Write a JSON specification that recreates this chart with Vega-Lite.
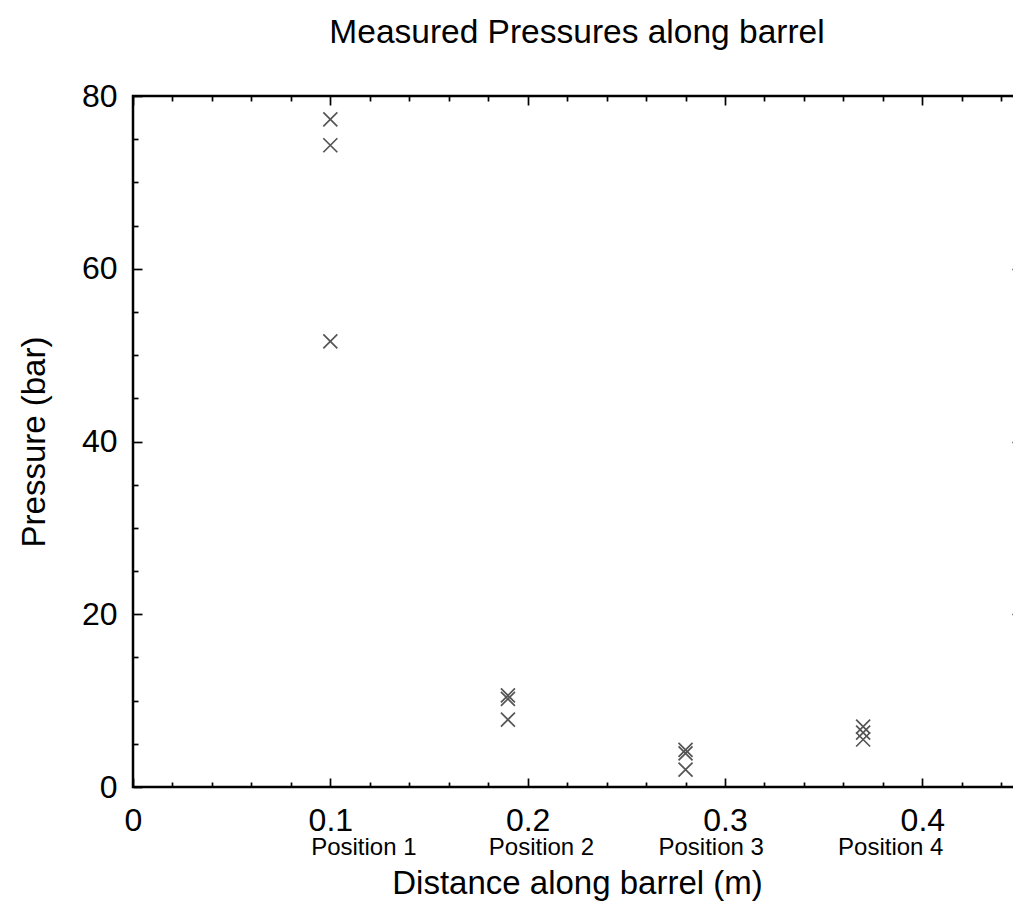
{
  "$schema": "https://vega.github.io/schema/vega-lite/v6.json",
  "autosize": {"type": "none"},
  "padding": {"left": 133, "top": 96, "right": 0, "bottom": 124},
  "width": 888,
  "height": 691,
  "background": "white",
  "title": {
    "text": "Measured Pressures along barrel",
    "font": "Liberation Sans",
    "fontSize": 33.5,
    "fontWeight": "normal",
    "color": "black",
    "anchor": "middle",
    "frame": "group",
    "baseline": "alphabetic",
    "offset": 3.5
  },
  "config": {
    "view": {"stroke": "black", "strokeWidth": 2.5},
    "axis": {
      "domain": false,
      "grid": false,
      "tickColor": "black",
      "tickWidth": 1.7,
      "labelFont": "Liberation Sans",
      "labelFontSize": 32,
      "labelColor": "black",
      "labelFlush": false,
      "labelOverlap": false,
      "titleFont": "Liberation Sans",
      "titleFontSize": 33,
      "titleColor": "black",
      "titleFontWeight": "normal"
    }
  },
  "datasets": {
    "pressures": [
      {"distance": 0.1, "pressure": 77.3},
      {"distance": 0.1, "pressure": 74.3},
      {"distance": 0.1, "pressure": 51.6},
      {"distance": 0.19, "pressure": 10.6},
      {"distance": 0.19, "pressure": 10.2},
      {"distance": 0.19, "pressure": 7.8},
      {"distance": 0.28, "pressure": 4.3},
      {"distance": 0.28, "pressure": 3.9},
      {"distance": 0.28, "pressure": 2.0},
      {"distance": 0.37, "pressure": 7.0},
      {"distance": 0.37, "pressure": 6.3},
      {"distance": 0.37, "pressure": 5.5}
    ],
    "labels": [
      {"label": "Position 1", "x": 0.117, "y": -7.1},
      {"label": "Position 2", "x": 0.207, "y": -7.1},
      {"label": "Position 3", "x": 0.293, "y": -7.1},
      {"label": "Position 4", "x": 0.384, "y": -7.1}
    ]
  },
  "layer": [
    {
      "data": {"name": "pressures"},
      "mark": {
        "type": "point",
        "shape": "M-1,-1L1,1M1,-1L-1,1",
        "filled": false,
        "stroke": "#555555",
        "strokeWidth": 1.7,
        "size": 196,
        "opacity": 1
      },
      "encoding": {
        "x": {
          "field": "distance",
          "type": "quantitative",
          "scale": {"domain": [0, 0.45], "nice": false, "zero": false},
          "axis": {
            "orient": "bottom",
            "values": [0, 0.1, 0.2, 0.3, 0.4],
            "format": ".1~f",
            "tickSize": -9,
            "labelPadding": 27,
            "title": "Distance along barrel (m)",
            "titleX": 444,
            "titleY": 106.5,
            "titleBaseline": "alphabetic",
            "titleAlign": "center"
          }
        },
        "y": {
          "field": "pressure",
          "type": "quantitative",
          "scale": {"domain": [0, 80], "nice": false, "zero": false},
          "axis": {
            "orient": "left",
            "values": [0, 20, 40, 60, 80],
            "format": "d",
            "tickSize": -9,
            "labelPadding": 25,
            "title": "Pressure (bar)",
            "titleX": -89,
            "titleY": 345.5,
            "titleAngle": 270,
            "titleBaseline": "alphabetic",
            "titleAlign": "center"
          }
        }
      }
    },
    {
      "data": {"name": "labels"},
      "mark": {
        "type": "text",
        "font": "Liberation Sans",
        "fontSize": 24,
        "color": "black",
        "align": "center",
        "baseline": "middle"
      },
      "encoding": {
        "text": {"field": "label"},
        "x": {
          "field": "x",
          "type": "quantitative",
          "scale": {"domain": [0, 0.45], "nice": false, "zero": false},
          "axis": {
            "orient": "bottom",
            "values": [0.02, 0.04, 0.06, 0.08, 0.12, 0.14, 0.16, 0.18, 0.22, 0.24, 0.26, 0.28, 0.32, 0.34, 0.36, 0.38, 0.42, 0.44],
            "tickSize": -5,
            "labels": false,
            "title": null
          }
        },
        "y": {
          "field": "y",
          "type": "quantitative",
          "scale": {"domain": [0, 80], "nice": false, "zero": false},
          "axis": {
            "orient": "left",
            "values": [5, 10, 15, 25, 30, 35, 45, 50, 55, 65, 70, 75],
            "tickSize": -5,
            "labels": false,
            "title": null
          }
        }
      }
    },
    {
      "data": {"name": "pressures"},
      "mark": {"type": "point", "opacity": 0},
      "encoding": {
        "x": {
          "field": "distance",
          "type": "quantitative",
          "scale": {"domain": [0, 0.45], "nice": false, "zero": false},
          "axis": {
            "orient": "top",
            "values": [0, 0.1, 0.2, 0.3, 0.4],
            "tickSize": -9,
            "labels": false,
            "title": null
          }
        },
        "y": {
          "field": "pressure",
          "type": "quantitative",
          "scale": {"domain": [0, 80], "nice": false, "zero": false},
          "axis": {
            "orient": "right",
            "values": [0, 20, 40, 60, 80],
            "tickSize": -9,
            "labels": false,
            "title": null
          }
        }
      }
    },
    {
      "data": {"name": "pressures"},
      "mark": {"type": "point", "opacity": 0},
      "encoding": {
        "x": {
          "field": "distance",
          "type": "quantitative",
          "scale": {"domain": [0, 0.45], "nice": false, "zero": false},
          "axis": {
            "orient": "top",
            "values": [0.02, 0.04, 0.06, 0.08, 0.12, 0.14, 0.16, 0.18, 0.22, 0.24, 0.26, 0.28, 0.32, 0.34, 0.36, 0.38, 0.42, 0.44],
            "tickSize": -5,
            "labels": false,
            "title": null
          }
        },
        "y": {
          "field": "pressure",
          "type": "quantitative",
          "scale": {"domain": [0, 80], "nice": false, "zero": false},
          "axis": {
            "orient": "right",
            "values": [5, 10, 15, 25, 30, 35, 45, 50, 55, 65, 70, 75],
            "tickSize": -5,
            "labels": false,
            "title": null
          }
        }
      }
    }
  ],
  "resolve": {"axis": {"x": "independent", "y": "independent"}}
}
